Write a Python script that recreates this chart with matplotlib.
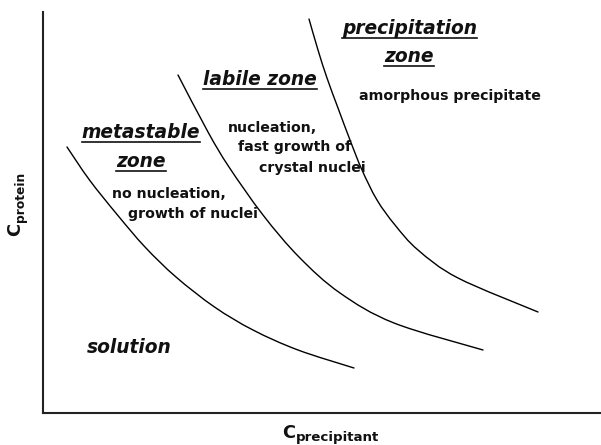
import matplotlib
matplotlib.use("Agg")
import matplotlib.pyplot as plt
from matplotlib.lines import Line2D
from matplotlib.path import Path
from matplotlib.patches import PathPatch

# ---- data (schematic coordinates) ----
curve_solubility_x = [24, 46.5, 74.5, 102, 133, 171.5, 210, 255, 311]
curve_solubility_y = [266, 233, 198, 166, 136, 106, 83, 63, 45]

curve_labile_x = [135, 165, 186, 220, 256, 297, 351, 440]
curve_labile_y = [338, 281, 246, 198, 156, 120, 90, 63]

curve_precip_x = [266, 275, 284, 295, 307, 319, 334, 352, 375, 415, 495]
curve_precip_y = [394, 363, 335, 305, 273, 243, 213, 188, 163, 135, 101]

zone_titles = ["metastable", "zone", "labile zone", "precipitation", "zone", "solution"]
zone_title_pos = [(98, 275), (98, 246), (217, 328), (366.5, 379), (366, 351), (86, 60)]
zone_title_underlined = [True, True, True, True, True, False]

zone_notes = ["no nucleation,", "growth of nuclei", "nucleation,", "fast growth of",
              "crystal nuclei", "amorphous precipitate"]
zone_note_pos = [(69, 215), (85, 195), (185, 281), (195, 262), (216, 241), (316, 313)]

xlabel_main, xlabel_sub = "C", "precipitant"
ylabel_main, ylabel_sub = "C", "protein"

W, H, DPI = 601, 445, 100
FONT = "DejaVu Sans"


def smooth_path(xs, ys):
    """Bezier path through the given points (Catmull-Rom tangents)."""
    pts = list(zip(xs, ys))
    n = len(pts)
    verts = [pts[0]]
    codes = [Path.MOVETO]
    for i in range(n - 1):
        p0 = pts[max(i - 1, 0)]
        p1 = pts[i]
        p2 = pts[i + 1]
        p3 = pts[min(i + 2, n - 1)]
        c1 = (p1[0] + (p2[0] - p0[0]) / 6.0, p1[1] + (p2[1] - p0[1]) / 6.0)
        c2 = (p2[0] - (p3[0] - p1[0]) / 6.0, p2[1] - (p3[1] - p1[1]) / 6.0)
        verts += [c1, c2, p2]
        codes += [Path.CURVE4, Path.CURVE4, Path.CURVE4]
    return Path(verts, codes)


fig = plt.figure(figsize=(W / DPI, H / DPI), dpi=DPI)
fig.patch.set_facecolor("white")
ax = fig.add_axes([43 / W, (H - 413) / H, (W - 43) / W, (413 - 12) / H])
ax.set_xlim(0, 558)
ax.set_ylim(0, 401)
for s in ["top", "right"]:
    ax.spines[s].set_visible(False)
for s in ["left", "bottom"]:
    ax.spines[s].set_linewidth(1.5)
    ax.spines[s].set_color("#222222")
ax.set_xticks([])
ax.set_yticks([])

for xs, ys in [(curve_solubility_x, curve_solubility_y),
               (curve_labile_x, curve_labile_y),
               (curve_precip_x, curve_precip_y)]:
    ax.add_patch(PathPatch(smooth_path(xs, ys), fill=False, edgecolor="black",
                           lw=1.0, capstyle="round", joinstyle="round"))

title_texts = []
for txt, (x, y), ul in zip(zone_titles, zone_title_pos, zone_title_underlined):
    t = ax.text(x, y, txt, ha="center", va="baseline", fontsize=13.4,
                fontweight="bold", fontstyle="italic", family=FONT, color="#111111")
    title_texts.append((t, ul))

for txt, (x, y) in zip(zone_notes, zone_note_pos):
    ax.text(x, y, txt, ha="left", va="baseline", fontsize=10.2,
            fontweight="bold", family=FONT, color="#111111")

fig.canvas.draw()
r = fig.canvas.get_renderer()

# underlines
for t, ul in title_texts:
    if not ul:
        continue
    bb = t.get_window_extent(r)
    xb, yb = ax.transData.transform(t.get_position())
    yline = yb - 3.5
    fig.add_artist(Line2D([bb.x0 / W, bb.x1 / W], [yline / H, yline / H],
                          transform=fig.transFigure, color="#111111", lw=1.2))

# x label: big C with subscript
c1 = fig.text(282 / W, 7 / H, xlabel_main, ha="left", va="baseline", fontsize=12.8,
              fontweight="bold", family=FONT, color="#111111")
fig.canvas.draw()
bb = c1.get_window_extent(r)
fig.text((bb.x1 + 1) / W, 4.5 / H, xlabel_sub, ha="left", va="baseline", fontsize=9.6,
         fontweight="bold", family=FONT, color="#111111")

# y label: rotated
c2 = fig.text(20 / W, (H - 236) / H, ylabel_main, rotation=90, rotation_mode="anchor",
              ha="left", va="baseline", fontsize=12.8, fontweight="bold", family=FONT,
              color="#111111")
fig.canvas.draw()
bb2 = c2.get_window_extent(r)
fig.text(24 / W, (bb2.y1 + 1) / H, ylabel_sub, rotation=90, rotation_mode="anchor",
         ha="left", va="baseline", fontsize=8.8, fontweight="bold", family=FONT,
         color="#111111")

fig.savefig("out.png", dpi=DPI, facecolor="white")
